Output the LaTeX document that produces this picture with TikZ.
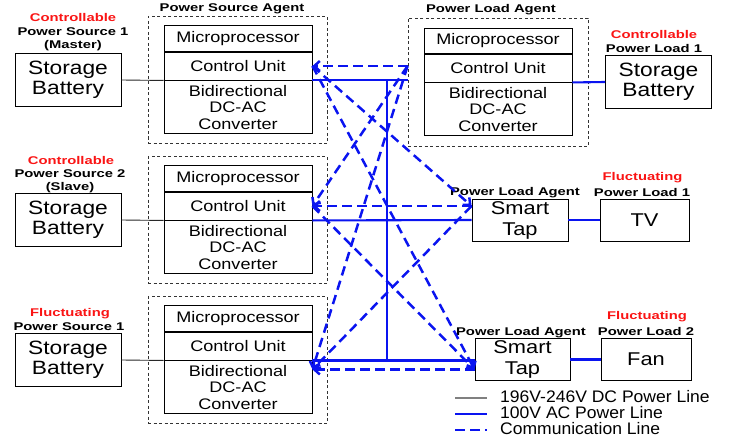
\documentclass[tikz,border=0pt]{standalone}
\usepackage{fontspec}
\setmainfont{Liberation Sans}[FakeStretch=1.18]
\newfontfamily\lblfont{Liberation Sans}[FakeStretch=1.32]
\newfontfamily\legfont{Liberation Sans}[FakeStretch=1.05]
\usetikzlibrary{arrows.meta}
\definecolor{acblue}{RGB}{10,20,240}
\definecolor{lblred}{RGB}{250,20,20}
\definecolor{dcgray}{RGB}{40,40,40}
\begin{document}
\begin{tikzpicture}[x=1pt,y=-1pt,
 box/.style={draw=black,line width=0.9pt,fill=white,inner sep=0pt,align=center},
 cell/.style={box,minimum width=148pt,font=\fontsize{15.3}{16.5}\selectfont},
 agentbox/.style={draw=black!80,line width=0.9pt,dash pattern=on 3pt off 2.5pt,inner sep=0pt},
 batt/.style={box,minimum width=106pt,minimum height=53pt,font=\fontsize{19.3}{20}\selectfont},
 tapbox/.style={box,minimum height=42pt,font=\fontsize{18.5}{21}\selectfont},
 lbl/.style={font=\lblfont\bfseries\fontsize{11.2}{12}\selectfont,inner sep=0pt},
 redlbl/.style={lbl,text=lblred},
 dcline/.style={draw=dcgray,line width=0.9pt},
 acline/.style={draw=acblue,line width=2.1pt},
 comm/.style={draw=acblue,line width=2.5pt,dash pattern=on 9.5pt off 5.5pt,-{Straight Barb[length=5.5pt,width=10pt]}},
 legtext/.style={font=\legfont\fontsize{16.7}{18}\selectfont,anchor=west,inner sep=0pt}
]
\useasboundingbox (0,0) rectangle (738,441);

% power source agents
\foreach \k/\b in {1/80,2/220,3/360}{
  \node[agentbox,minimum width=179pt,minimum height=127pt] (sa\k) at (237.5,\b) {};
  \node[cell,minimum height=28pt] (sc\k) at (238,\b-14) {Control Unit};
  \node[cell,minimum height=25.5pt,anchor=south] (sm\k) at (sc\k.north) {Microprocessor};
  \node[cell,minimum height=53pt,anchor=north] (sv\k) at (sc\k.south) {Bidirectional\\DC-AC\\Converter};
  \node[batt] (sb\k) at (68,\b) {Storage\\Battery};
  \draw[dcline] (sb\k.east) -- (sv\k.north west);
}

% power load agent
\node[agentbox,minimum width=180pt,minimum height=128pt] (la) at (498,82) {};
\node[cell,minimum height=28pt] (lc) at (498,68) {Control Unit};
\node[cell,minimum height=25pt,anchor=south] (lm) at (lc.north) {Microprocessor};
\node[cell,minimum height=53pt,anchor=north] (lv) at (lc.south) {Bidirectional\\DC-AC\\Converter};
\node[batt] (lb) at (658.5,82) {Storage\\Battery};

% smart taps and loads
\node[tapbox,minimum width=96pt] (t1) at (520,220) {Smart\\Tap};
\node[tapbox,minimum width=89pt] (tv) at (644.5,220) {TV};
\node[tapbox,minimum width=95pt] (t2) at (522.5,359.5) {Smart\\Tap};
\node[tapbox,minimum width=90pt] (fan) at (646,359.5) {Fan};

% labels
\node[lbl] (agl) at (232,9) {Power Source Agent};
\node[lbl] (lal) at (491,10) {Power Load Agent};
\node[lbl] (t1l) at (515,193) {Power Load Agent};
\node[lbl] (t2l) at (521,333) {Power Load Agent};
\node[redlbl] (s1a) at (73,17) {Controllable};
\node[lbl] (s1b) at (73,32) {Power Source 1};
\node[lbl] (s1c) at (73,46) {(Master)};
\node[redlbl] (s2a) at (71,160) {Controllable};
\node[lbl] (s2b) at (70,174) {Power Source 2};
\node[lbl] (s2c) at (70,188) {(Slave)};
\node[redlbl] (s3a) at (70,314) {Fluctuating};
\node[lbl] (s3b) at (69,327) {Power Source 1};
\node[redlbl] (l1a) at (654,34) {Controllable};
\node[lbl] (l1b) at (654,48) {Power Load 1};
\node[redlbl] (tva) at (642.5,178) {Fluctuating};
\node[lbl] (tvb) at (642,192) {Power Load 1};
\node[redlbl] (fana) at (647,317) {Fluctuating};
\node[lbl] (fanb) at (646,331) {Power Load 2};

% AC power lines
\coordinate (bus1) at (387,80);
\coordinate (bus2) at (387,360);
\draw[acline] (sv1.north east) -- (sv1.north east -| la.west);
\draw[acline] (bus1) -- (bus2);
\draw[acline] (sv2.north east) -- (t1.west);
\draw[acline] (sv3.north east) -- (sv3.north east -| t2.west);
\draw[acline] (lv.north east) -- (lb.west);
\draw[acline] (t1.east) -- (tv.west);
\draw[acline] (t2.east) -- (fan.west);

% communication lines
\coordinate (c1) at (sc1.east);
\coordinate (c2) at (sc2.east);
\coordinate (c3) at ([yshift=-9pt]sv3.north east);
\coordinate (cl) at (la.west |- c1);
\coordinate (ct1) at (t1.west |- c2);
\coordinate (ct2) at (t2.west |- c3);
\draw[comm] (cl) -- (c1);
\draw[comm] (ct1) -- (c2);
\draw[comm] (ct2) -- (c3);
\draw[comm] (cl) -- (c2);
\draw[comm] (cl) -- (c3);
\draw[comm] (ct1) -- (c3);
\draw[comm] (c1) -- (ct1);
\draw[comm] (c1) -- (ct2);
\draw[comm] (c2) -- (ct2);

% legend
\coordinate (g1a) at (455,398); \coordinate (g1b) at (487,398);
\coordinate (g2a) at (455,414); \coordinate (g2b) at (487,414);
\coordinate (g3a) at (455,430); \coordinate (g3b) at (487,430);
\draw[draw=black!50,line width=1.2pt] (g1a) -- (g1b);
\draw[acline] (g2a) -- (g2b);
\draw[comm,-,dash pattern=on 10pt off 5pt] (g3a) -- (g3b);
\node[legtext] (gt1) at (500,397) {196V-246V DC Power Line};
\node[legtext] (gt2) at (500,413) {100V AC Power Line};
\node[legtext] (gt3) at (500,429) {Communication Line};
\end{tikzpicture}
\end{document}
